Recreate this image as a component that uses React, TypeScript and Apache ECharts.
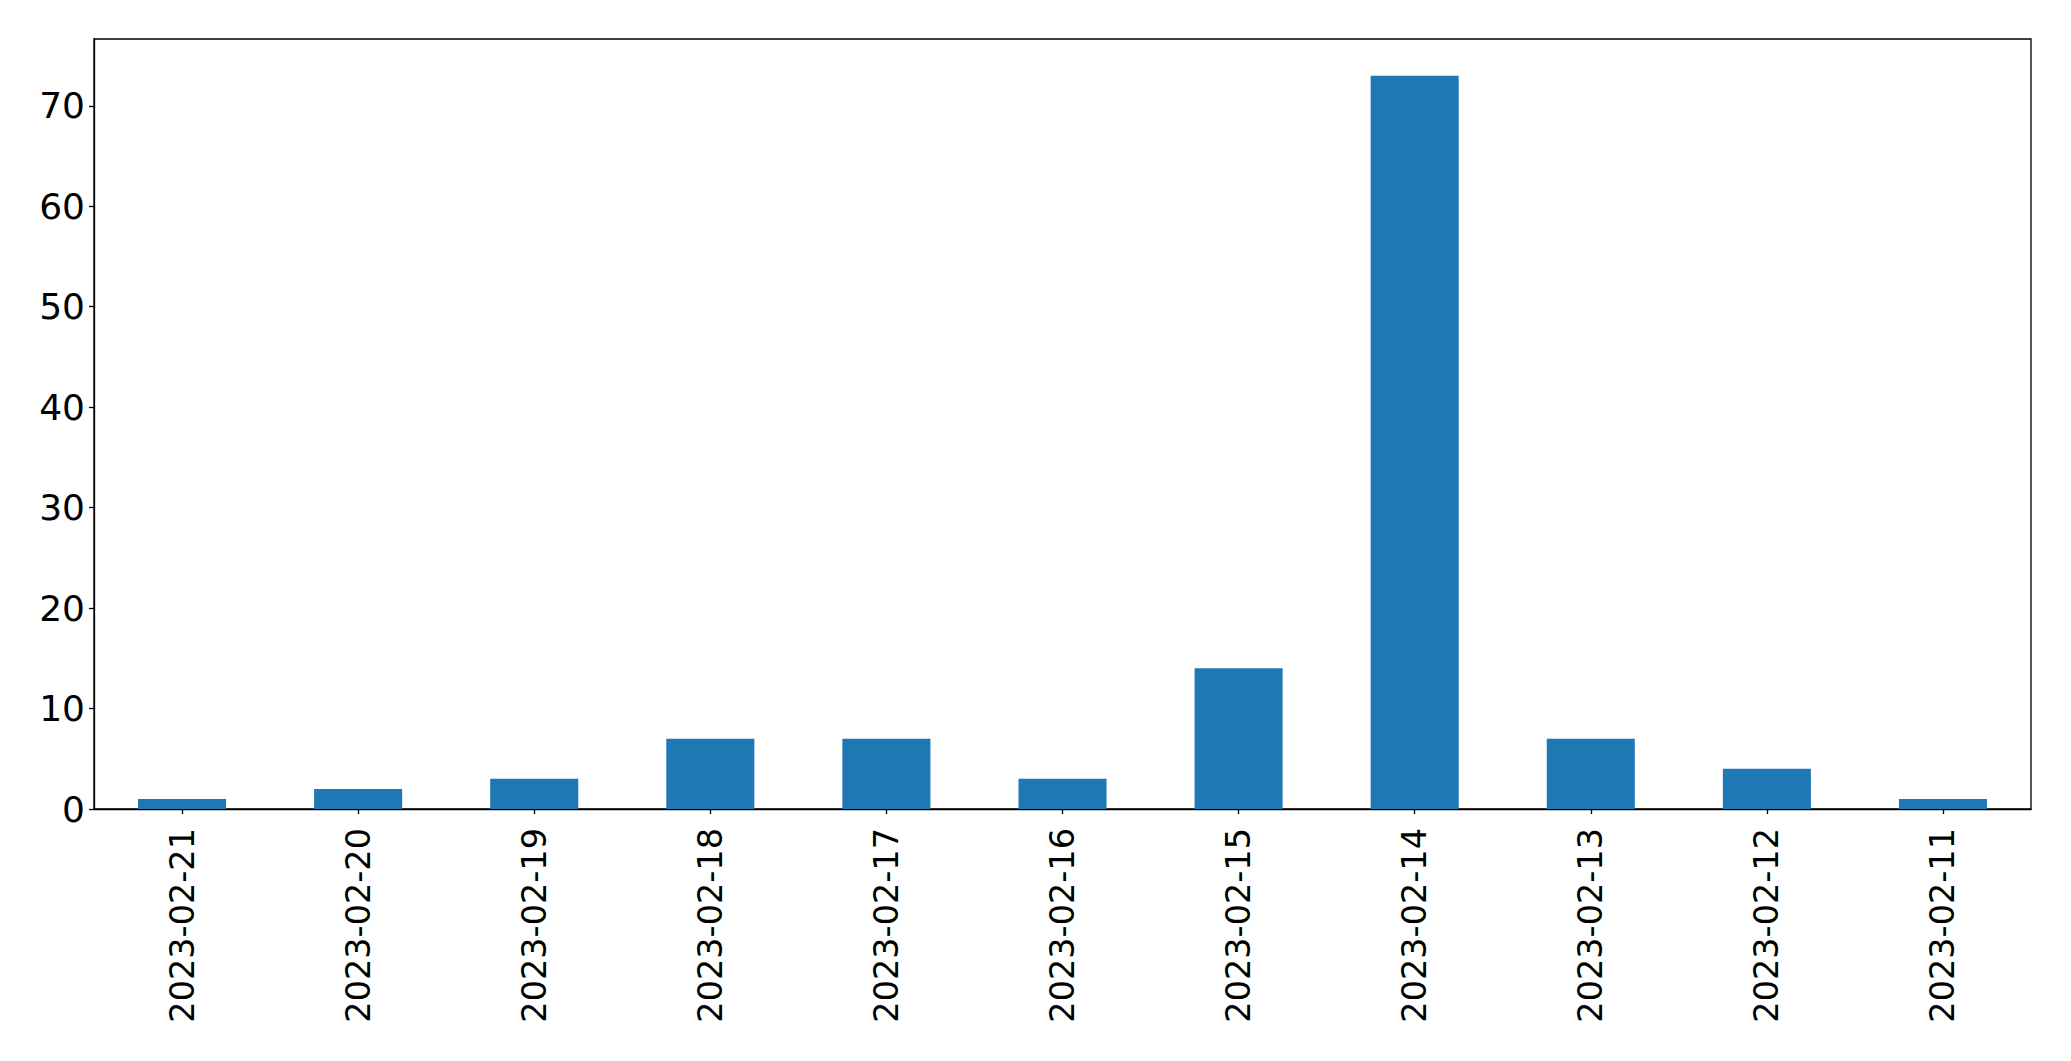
import React, { useEffect, useRef } from "react";
import * as echarts from "echarts";

const categories = [
  "2023-02-21",
  "2023-02-20",
  "2023-02-19",
  "2023-02-18",
  "2023-02-17",
  "2023-02-16",
  "2023-02-15",
  "2023-02-14",
  "2023-02-13",
  "2023-02-12",
  "2023-02-11",
];
const counts = [1, 2, 3, 7, 7, 3, 14, 73, 7, 4, 1];
const yTicks = [0, 10, 20, 30, 40, 50, 60, 70];
const yMax = 76.65;
const yInterval = 10;

export default function App() {
  const ref = useRef<HTMLDivElement>(null);
  useEffect(() => {
    if (!ref.current) return;
    const chart = echarts.init(ref.current, undefined, { renderer: "svg" });
    const font = "DejaVu Sans";
    chart.setOption({
      animation: false,
      backgroundColor: "#ffffff",
      grid: {
        left: 94,
        top: 39,
        width: 1937,
        height: 770,
        show: true,
        borderColor: "#000000",
        borderWidth: 1.3,
        backgroundColor: "transparent",
      },
      xAxis: {
        type: "category",
        data: categories,
        boundaryGap: true,
        axisLine: { show: true, lineStyle: { color: "#000000", width: 1.3 } },
        axisTick: { show: true, alignWithLabel: true, length: 5, lineStyle: { color: "#000000", width: 1.3 } },
        axisLabel: {
          rotate: 90,
          interval: 0,
          margin: 19,
          fontSize: 33.5,
          fontFamily: font,
          color: "#000000",
        },
        splitLine: { show: false },
      },
      yAxis: {
        type: "value",
        min: 0,
        max: yMax,
        interval: yInterval,
        axisLine: { show: true, lineStyle: { color: "#000000", width: 1.3 } },
        axisTick: { show: true, length: 5, customValues: yTicks, lineStyle: { color: "#000000", width: 1.3 } },
        axisLabel: {
          margin: 9,
          fontSize: 36,
          fontFamily: font,
          color: "#000000",
          customValues: yTicks,
          formatter: (v: number) => (Math.abs(v % yInterval) < 1e-9 ? String(v) : ""),
        },
        splitLine: { show: false },
      },
      series: [
        {
          type: "bar",
          data: counts,
          barWidth: "50%",
          itemStyle: { color: "#1f77b4" },
        },
      ],
    });
    return () => chart.dispose();
  }, []);
  return (
    <div
      ref={ref}
      style={{ position: "absolute", left: 0, top: 0, width: 2071, height: 1061 }}
    />
  );
}
